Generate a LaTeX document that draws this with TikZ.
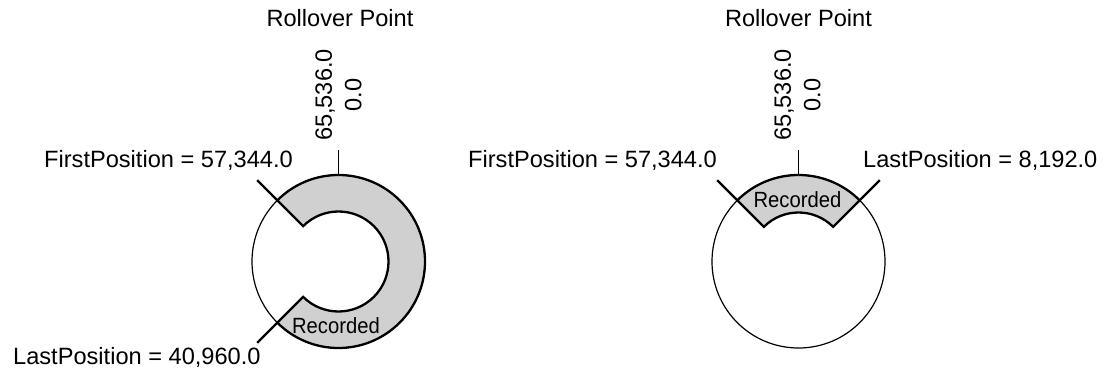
\documentclass[tikz,border=0pt]{standalone}
\usepackage{fontspec}
\setmainfont{Liberation Sans}
\newfontfamily\recfont{Liberation Sans}[FakeStretch=0.92]
\usetikzlibrary{positioning}
\definecolor{recgray}{HTML}{D0D0D0}
\tikzstyle{every node}=[font=\fontsize{23.6}{29.5}\selectfont, inner sep=0pt]
\tikzstyle{ring}=[draw=black, line width=1.2pt]
\tikzstyle{span}=[draw=black, line width=2.3pt, line join=miter]
\tikzstyle{reclbl}=[font=\recfont\fontsize{22}{26}\selectfont]

\begin{document}
\begin{tikzpicture}[x=1pt, y=1pt]
  \useasboundingbox (0,0) rectangle (1117,373);
  % wrap around: first > last
  \begin{scope}[shift={(338.5,111.5)}]
    \draw[ring] (0,0) circle (86.5);
    \fill[recgray] (135:86.5) arc[start angle=135, end angle=-135, radius=86.5]
      -- (-135:50) arc[start angle=-135, end angle=135, radius=50] -- cycle;
    \draw[span] (135:86.5) arc[start angle=135, end angle=-135, radius=86.5];
    \draw[span] (135:115) -- (135:50) arc[start angle=135, end angle=-135, radius=50] -- (-135:115);
    \draw[ring] (90:86.5) -- (90:111.5);
    \node[rotate=90, align=center] (zeroL) at (0,166.5) {65,536.0\\0.0};
    \node[anchor=base] (rollL) at (1.5,234.8) {Rollover Point};
    \node[reclbl, anchor=base] (recL) at (-2.5,-71.5) {Recorded};
  \end{scope}
  \node[anchor=base west] (firstL) at (44,205.3) {FirstPosition = 57,344.0};
  \node[anchor=base west] (lastL) at (13,8.7) {LastPosition = 40,960.0};

  % no wrap: first < last
  \begin{scope}[shift={(798.5,111.5)}]
    \draw[ring] (0,0) circle (86.5);
    \fill[recgray] (135:86.5) arc[start angle=135, end angle=45, radius=86.5]
      -- (45:49) arc[start angle=45, end angle=135, radius=49] -- cycle;
    \draw[span] (135:86.5) arc[start angle=135, end angle=45, radius=86.5];
    \draw[span] (135:115) -- (135:49) arc[start angle=135, end angle=45, radius=49] -- (45:115);
    \draw[ring] (90:86.5) -- (90:111.5);
    \node[rotate=90, align=center] (zeroR) at (-1,166.5) {65,536.0\\0.0};
    \node[anchor=base] (rollR) at (0,234.8) {Rollover Point};
    \node[reclbl, anchor=base] (recR) at (-1,54.5) {Recorded};
  \end{scope}
  \node[anchor=base east] (firstR) at (717,205.3) {FirstPosition = 57,344.0};
  \node[anchor=base west] (lastR) at (863,205.3) {LastPosition = 8,192.0};
\end{tikzpicture}
\end{document}
